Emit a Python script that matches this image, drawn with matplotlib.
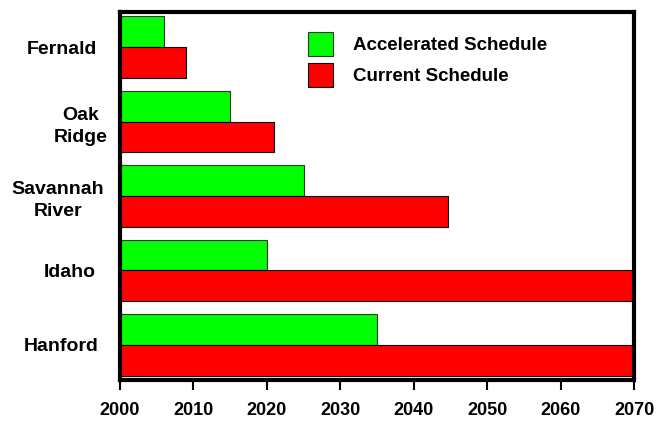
import matplotlib
matplotlib.use("Agg")
import matplotlib.pyplot as plt
import matplotlib.transforms as mtransforms
import numpy as np
from matplotlib.patches import Patch

plt.rcParams['font.family'] = ['Liberation Sans', 'DejaVu Sans']
plt.rcParams['font.weight'] = 'bold'

sites = ["Fernald", "Oak\nRidge", "Savannah\nRiver", "Idaho", "Hanford"]
accelerated = [2006, 2015, 2025, 2020, 2035]
current = [2009, 2021, 2044.7, 2070, 2070]
xticks = [2000, 2010, 2020, 2030, 2040, 2050, 2060, 2070]
base_year = 2000
label_shift_px = [0, 19, -4, 8, 0]

fig = plt.figure(figsize=(6.57, 4.23), dpi=100)
ax = fig.add_axes([0.1826, 0.1017, 0.7824, 0.8699])

y = np.arange(len(sites))
h = 0.41
ax.barh(y - h / 2, np.array(accelerated) - base_year, left=base_year, height=h,
        color='#00ff00', edgecolor='#333333', linewidth=0.8, label='Accelerated Schedule', zorder=2)
ax.barh(y + h / 2, np.array(current) - base_year, left=base_year, height=h,
        color='#ff0000', edgecolor='black', linewidth=0.8, label='Current Schedule', zorder=2)

ax.set_xlim(2000, 2070)
ax.set_ylim(len(sites) - 0.53, -0.47)
ax.set_xticks(xticks)
ax.set_xticklabels([str(t) for t in xticks], fontsize=13, fontweight='bold')
ax.set_yticks(y)
ax.set_yticklabels(sites, fontsize=14, fontweight='bold', ha='center', multialignment='center',
                   linespacing=1.4)
ax.tick_params(axis='y', length=0, pad=42)
ax.tick_params(axis='x', direction='out', length=7, width=1.5, pad=9)

for lbl, dx in zip(ax.get_yticklabels(), label_shift_px):
    lbl.set_transform(lbl.get_transform() + mtransforms.ScaledTranslation(dx / 100, 0, fig.dpi_scale_trans))

for s in ax.spines.values():
    s.set_linewidth(3)
    s.set_zorder(3)

handles = [Patch(facecolor='#00ff00', edgecolor='#333333', linewidth=0.8),
           Patch(facecolor='#ff0000', edgecolor='black', linewidth=0.8)]
ax.legend(handles, ['Accelerated Schedule', 'Current Schedule'], loc='upper left',
          bbox_to_anchor=(0.366, 0.945), frameon=False, prop={'weight': 'bold', 'size': 13.5},
          handlelength=1.35, handleheight=1.55, handletextpad=1.05, labelspacing=0.4,
          borderaxespad=0, borderpad=0)

fig.savefig("out.png", dpi=100)
